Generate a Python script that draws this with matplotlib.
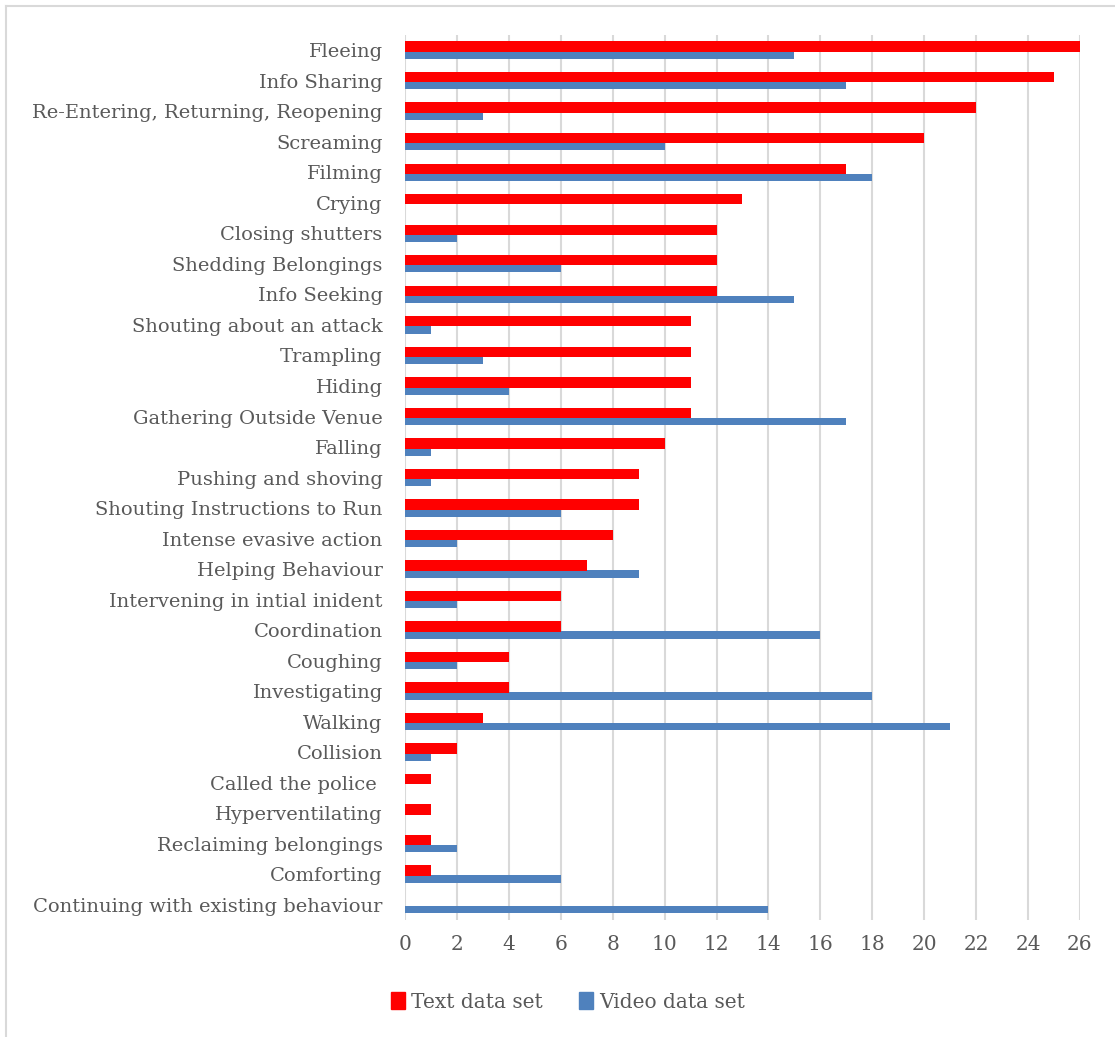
import matplotlib
matplotlib.use("Agg")
import matplotlib.pyplot as plt
import numpy as np
from matplotlib.lines import Line2D
from matplotlib.patches import Patch

# -----------------------------
# Data (top to bottom)
# -----------------------------
categories = [
    "Fleeing", "Info Sharing", "Re-Entering, Returning, Reopening", "Screaming",
    "Filming", "Crying", "Closing shutters", "Shedding Belongings", "Info Seeking",
    "Shouting about an attack", "Trampling", "Hiding", "Gathering Outside Venue",
    "Falling", "Pushing and shoving", "Shouting Instructions to Run",
    "Intense evasive action", "Helping Behaviour", "Intervening in intial inident",
    "Coordination", "Coughing", "Investigating", "Walking", "Collision",
    "Called the police ", "Hyperventilating", "Reclaiming belongings", "Comforting",
    "Continuing with existing behaviour",
]
text_counts = [26, 25, 22, 20, 17, 13, 12, 12, 12, 11, 11, 11, 11, 10, 9, 9, 8, 7,
               6, 6, 4, 4, 3, 2, 1, 1, 1, 1, 0]
video_counts = [15, 17, 3, 10, 18, 0, 2, 6, 15, 1, 3, 4, 17, 1, 1, 6, 2, 9,
                2, 16, 2, 18, 21, 1, 0, 0, 2, 6, 14]
x_ticks = list(range(0, 27, 2))

RED = "#ff0000"
BLUE = "#4f81bd"
GRID = "#d9d9d9"
TXT = "#595959"
FONT = "DejaVu Serif"

# -----------------------------
# Figure and axes
# -----------------------------
fig = plt.figure(figsize=(11.15, 10.37), dpi=100)
ax = fig.add_axes([0.3632, 0.1128, 0.6054, 0.8534])

y = np.arange(len(categories))
ax.barh(y - 0.12, text_counts, height=0.34, color=RED, zorder=3)
ax.barh(y + 0.16, video_counts, height=0.24, color=BLUE, zorder=2)

ax.set_xlim(0, 26)
ax.set_ylim(len(categories) - 0.5, -0.5)
ax.set_xticks(x_ticks)
ax.set_yticks(y)
ax.set_yticklabels(categories)

ax.grid(axis="x", color=GRID, linewidth=1.5, zorder=0)
for s in ax.spines.values():
    s.set_visible(False)
ax.tick_params(axis="both", length=0, colors=TXT)
ax.tick_params(axis="y", pad=16)
ax.tick_params(axis="x", pad=11)
for lab in ax.get_yticklabels():
    lab.set_fontfamily(FONT)
    lab.set_fontsize(14)
    lab.set_color(TXT)
for lab in ax.get_xticklabels():
    lab.set_fontfamily(FONT)
    lab.set_fontsize(14.5)
    lab.set_color(TXT)

# -----------------------------
# Legend
# -----------------------------
handles = [Patch(color=RED, label="Text data set"),
           Patch(color=BLUE, label="Video data set")]
fig.legend(handles=handles, loc="center", bbox_to_anchor=(568 / 1115, 1 - 1002 / 1037),
           ncol=2, frameon=False, handlelength=0.7, handleheight=0.9,
           handletextpad=0.3, columnspacing=1.8,
           prop={"family": FONT, "size": 14.5}, labelcolor=TXT)

# outer chart border (top and left)
fig.add_artist(Line2D([6 / 1115, 1], [1 - 6 / 1037] * 2, color=GRID, lw=1.5,
                      transform=fig.transFigure))
fig.add_artist(Line2D([6 / 1115] * 2, [0, 1 - 6 / 1037], color=GRID, lw=1.5,
                      transform=fig.transFigure))

fig.savefig("out.png", dpi=100)
